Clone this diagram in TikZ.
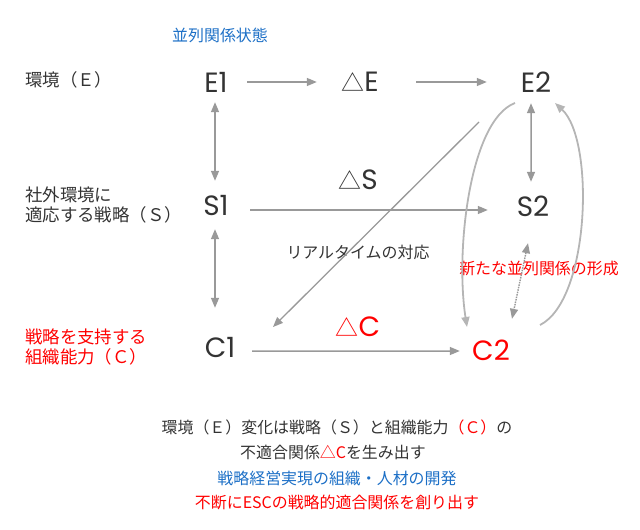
\documentclass[tikz,border=0pt]{standalone}
\usepackage{fontspec}
\setmainfont{Noto Sans CJK JP}
\newfontfamily\cjk{Noto Sans CJK JP}
\newfontfamily\latn{Poppins}
\usepackage{xcolor}
\usetikzlibrary{positioning,arrows.meta}
\definecolor{txtgray}{HTML}{333333}
\definecolor{arrgray}{HTML}{999999}
\definecolor{crvgray}{HTML}{B5B5B5}
\definecolor{jpblue}{HTML}{1C6FC6}
\definecolor{jpred}{HTML}{FF0000}
\newcommand{\tri}{{\cjk\fontsize{23}{23}\selectfont △}}

\begin{document}
\begin{tikzpicture}[x=1bp,y=-1bp,
  big/.style={font=\fontsize{28}{28}\selectfont\latn,text=txtgray,minimum width=60bp,minimum height=40bp,inner sep=0pt},
  lbl/.style={font=\fontsize{17.5}{20}\selectfont,text=txtgray,align=left,anchor=west,inner sep=0pt},
  note/.style={font=\fontsize{16}{16}\selectfont,text=txtgray,inner sep=0pt},
  tip/.style={-{Triangle[length=10bp,width=8bp]}},
  arr/.style={draw=arrgray,line width=1.5bp,tip},
  darr/.style={draw=arrgray,line width=1.5bp,{Triangle[length=10bp,width=8bp]}-{Triangle[length=10bp,width=8bp]}},
  crv/.style={draw=crvgray,line width=1.8bp,tip}]
\useasboundingbox (0,0) rectangle (640,530);
% main states
\node[big] (E1) at (216,82) {E1};
\node[big] (dE) at (360,82) {\tri E};
\node[big] (E2) at (536,82) {E2};
\node[big] (S1) at (216,206) {S1};
\node[big] (dS) at (358,180) {\tri S};
\node[big] (S2) at (533,206) {S2};
\node[big] (C1) at (220,347) {C1};
\node[big,text=jpred] (dC) at (358,327) {\tri C};
\node[big,text=jpred] (C2) at (491,350) {C2};
% labels
\node[note,text=jpblue] (ttl) at (220,35) {並列関係状態};
\node[lbl] (lE) at (25,80) {環境（Ｅ）};
\node[lbl] (lS) at (25,205) {社外環境に\\適応する戦略（Ｓ）};
\node[lbl,text=jpred] (lC) at (25,347) {戦略を支持する\\組織能力（Ｃ）};
\node[note] (rt) at (358,252) {リアルタイムの対応};
\node[note,text=jpred] (nw) at (539,268) {新たな並列関係の形成};
\node[note] (b1) at (337,427) {環境（Ｅ）変化は戦略（Ｓ）と組織能力{\color{jpred}（Ｃ）}の};
\node[note] (b2) at (333,452) {不適合関係{\color{jpred}△C}を生み出す};
\node[note,text=jpblue] (b3) at (337,478) {戦略経営実現の組織・人材の開発};
\node[note,text=jpred] (b4) at (337,502) {不断にESCの戦略的適合関係を創り出す};
% connectors
\draw[arr,shorten <=1bp,shorten >=13bp] (E1.east) -- (dE.west);
\draw[arr,shorten <=26bp,shorten >=19bp] (dE.east) -- (E2.west);
\draw[darr,shorten >=5bp] ([xshift=-1bp]E1.south) -- ([xshift=-1bp]S1.north);
\draw[darr,shorten <=3bp,shorten >=19bp] ([xshift=-1bp]S1.south) -- ([xshift=-1bp]S1.south |- C1.north);
\draw[arr,shorten <=4bp,shorten >=15bp] ([yshift=-4bp]S1.east) -- ([yshift=-4bp]S2.west);
\draw[arr,shorten <=2bp,shorten >=1bp] ([yshift=-4bp]C1.east) -- ([yshift=-1bp]C2.west);
\draw[arr,line width=1.3bp] ([shift={(-57,40)}]E2.center) -- ([shift={(53,-20)}]C1.center);
\draw[darr,shorten <=1bp,shorten >=4bp] ([xshift=-5bp]E2.south) -- ([xshift=-2bp]S2.north);
\draw[darr,densely dotted,line width=1.4bp] ([shift={(-5,17)}]S2.south) -- ([shift={(21,-11)}]C2.north);
\draw[crv] ([shift={(-21,21)}]E2.center) .. controls +(-45,17) and +(-12,-77) .. ([shift={(-24,-23)}]C2.center);
\draw[crv] ([shift={(49,-25)}]C2.center) .. controls +(50,-25) and +(40,37) .. ([shift={(19,21)}]E2.center);
\end{tikzpicture}
\end{document}
